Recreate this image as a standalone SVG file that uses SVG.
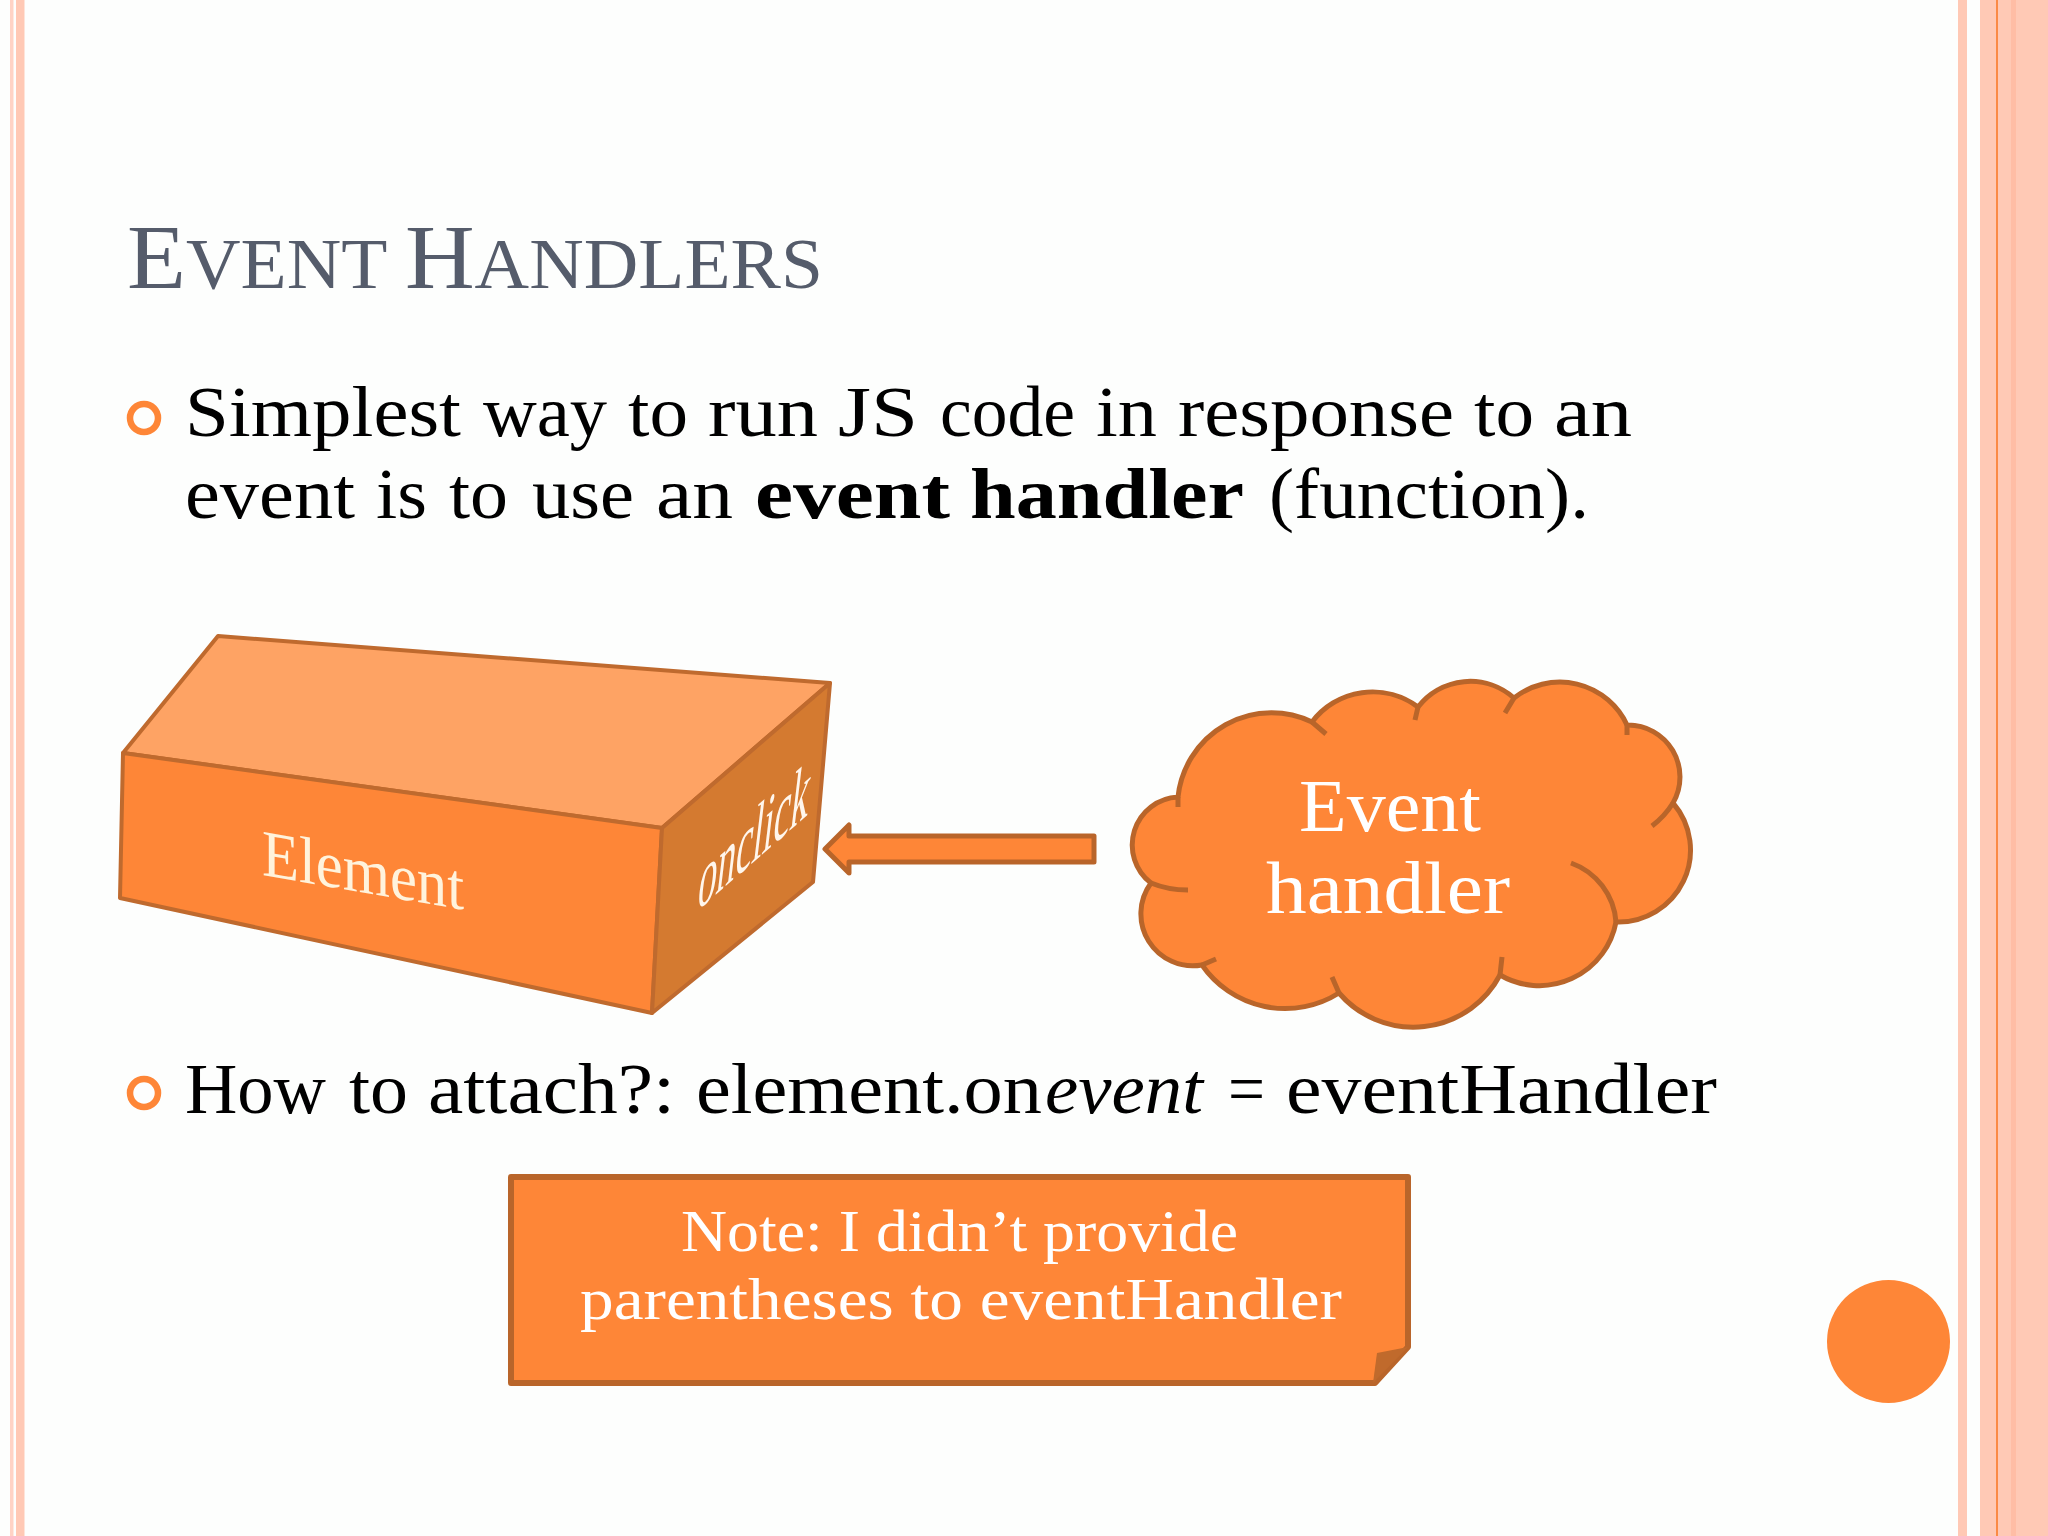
<svg xmlns="http://www.w3.org/2000/svg" width="2048" height="1536" viewBox="0 0 2048 1536">
<defs><style>
text{font-family:"Liberation Serif","Times New Roman",serif}
.b{font-size:72px;fill:#000}
.w{fill:#fff}
.s{fill:#FE8637;stroke:#B9652A;stroke-width:5;stroke-linejoin:round}
.l{fill:none;stroke:#B9652A;stroke-width:5}
.p{fill:#FFC9B5}
.bu{fill:none;stroke:#FE8637;stroke-width:6.5}
.f{stroke:#BF6A2E;stroke-width:4;stroke-linejoin:round}
</style></defs>
<rect width="2048" height="1536" fill="#FDFEFD"/>
<g id="frame">
<rect x="10" y="0" width="3.5" height="1536" fill="#FFD3C5"/>
<rect class="p" x="16" y="0" width="8.5" height="1536"/>
<rect class="p" x="1958" y="0" width="9" height="1536"/>
<rect class="p" x="1980" y="0" width="68" height="1536"/>
<rect x="1996" y="0" width="2" height="1536" fill="#FB8A45"/>
<rect x="2011" y="0" width="5" height="1536" fill="#FFBDA5"/>
</g>
<g id="title"><text x="127" y="288" font-size="72" fill="#555C6B" textLength="696" lengthAdjust="spacingAndGlyphs"><tspan font-size="92">E</tspan>VENT <tspan font-size="92">H</tspan>ANDLERS</text></g>
<g id="bullets">
<circle class="bu" cx="144" cy="418" r="14"/>
<circle class="bu" cx="144" cy="1093" r="14"/>
</g>
<g id="body">
<text class="b" y="436" x="185" textLength="276" lengthAdjust="spacingAndGlyphs">Simplest</text>
<text class="b" y="436" x="483" textLength="124" lengthAdjust="spacingAndGlyphs">way</text>
<text class="b" y="436" x="628" textLength="60" lengthAdjust="spacingAndGlyphs">to</text>
<text class="b" y="436" x="708" textLength="110" lengthAdjust="spacingAndGlyphs">run</text>
<text class="b" y="436" x="838" textLength="80" lengthAdjust="spacingAndGlyphs">JS</text>
<text class="b" y="436" x="940" textLength="135" lengthAdjust="spacingAndGlyphs">code</text>
<text class="b" y="436" x="1096" textLength="61" lengthAdjust="spacingAndGlyphs">in</text>
<text class="b" y="436" x="1178" textLength="276" lengthAdjust="spacingAndGlyphs">response</text>
<text class="b" y="436" x="1474" textLength="60" lengthAdjust="spacingAndGlyphs">to</text>
<text class="b" y="436" x="1554" textLength="78" lengthAdjust="spacingAndGlyphs">an</text>
<text class="b" y="518" x="185" textLength="170" lengthAdjust="spacingAndGlyphs">event</text>
<text class="b" y="518" x="376" textLength="51" lengthAdjust="spacingAndGlyphs">is</text>
<text class="b" y="518" x="449" textLength="59" lengthAdjust="spacingAndGlyphs">to</text>
<text class="b" y="518" x="532" textLength="102" lengthAdjust="spacingAndGlyphs">use</text>
<text class="b" y="518" x="656" textLength="77" lengthAdjust="spacingAndGlyphs">an</text>
<text class="b" y="518" x="755" font-weight="bold" textLength="195" lengthAdjust="spacingAndGlyphs">event</text>
<text class="b" y="518" x="970" font-weight="bold" textLength="274" lengthAdjust="spacingAndGlyphs">handler</text>
<text class="b" y="518" x="1269" textLength="320" lengthAdjust="spacingAndGlyphs">(function).</text>
<text class="b" y="1113" x="185" textLength="141" lengthAdjust="spacingAndGlyphs">How</text>
<text class="b" y="1113" x="349" textLength="59" lengthAdjust="spacingAndGlyphs">to</text>
<text class="b" y="1113" x="428" textLength="247" lengthAdjust="spacingAndGlyphs">attach?:</text>
<text class="b" y="1113" x="696" textLength="346" lengthAdjust="spacingAndGlyphs">element.on</text>
<text class="b" y="1113" x="1045" font-style="italic" textLength="158" lengthAdjust="spacingAndGlyphs">event</text>
<text class="b" y="1113" x="1228" textLength="37" lengthAdjust="spacingAndGlyphs">=</text>
<text class="b" y="1113" x="1286" textLength="431" lengthAdjust="spacingAndGlyphs">eventHandler</text>
</g>
<g id="element">
<polygon class="f" points="218,636 830,683 662,828 123,753" fill="#FEA364"/>
<polygon class="f" points="123,753 662,828 652,1013 120,898" fill="#FE8637"/>
<polygon class="f" points="662,828 830,683 813,882 652,1013" fill="#D47A30"/>
<text transform="matrix(1 .173 0 1 262 875)" font-size="66" fill="#FFF3DC" textLength="202" lengthAdjust="spacingAndGlyphs">Element</text>
<text transform="matrix(1 -.87 -.12 1 696 912)" font-size="86" fill="#FFF6EC" textLength="111" lengthAdjust="spacingAndGlyphs">onclick</text>
</g>
<g id="connectors">
<polygon class="s" points="825,849 849,825 849,836 1094,836 1094,862 849,862 849,873"/>
</g>
<g id="cloud">
<path class="s" d="M1178 797A94 94 0 0 1 1312 722A76 76 0 0 1 1418 707A66 66 0 0 1 1514 698A74 74 0 0 1 1627 725A52 52 0 0 1 1673 803A72 72 0 0 1 1616 922A78 78 0 0 1 1500 975A98 98 0 0 1 1339 993A101 101 0 0 1 1202 965A52 52 0 0 1 1151 883A48 48 0 0 1 1178 797Z"/>
<path class="l" d="M1178 797L1178 807M1312 722L1326 734M1418 707L1415 720M1514 698L1505 713M1627 725L1627 735M1673 803Q1665 816 1652 826M1571 863A68 68 0 0 1 1616 922M1500 975L1502 957M1339 993L1332 977M1202 965L1216 959M1151 883Q1168 890 1188 890"/>
<text class="w" x="1299" y="831" font-size="73" textLength="182" lengthAdjust="spacingAndGlyphs">Event</text>
<text class="w" x="1266" y="913" font-size="73" textLength="244" lengthAdjust="spacingAndGlyphs">handler</text>
</g>
<g id="note">
<path class="s" style="stroke-width:6" d="M511 1177H1408V1347L1375 1383H511Z"/>
<polygon points="1408,1347 1377,1353 1373,1383" fill="#C06A2C"/>
<text class="w" x="681" y="1251" font-size="60" textLength="557" lengthAdjust="spacingAndGlyphs">Note: I didn’t provide</text>
<text class="w" x="580" y="1319" font-size="60" textLength="762" lengthAdjust="spacingAndGlyphs">parentheses to eventHandler</text>
</g>
<g id="dot"><circle cx="1888.5" cy="1341.5" r="61.5" fill="#FE8637"/></g>
</svg>
